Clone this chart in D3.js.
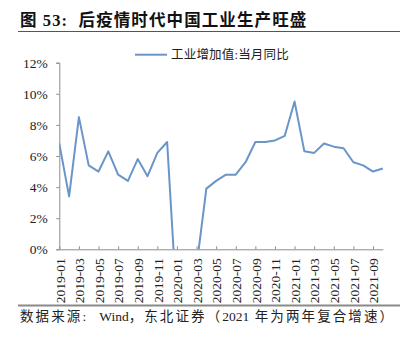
<!DOCTYPE html>
<html><head><meta charset="utf-8">
<script src="https://cdn.jsdelivr.net/npm/d3@7"></script>
<style>
html,body{margin:0;padding:0;background:#fff;}
svg{display:block;}
</style>
</head><body>
<svg id="c" width="411" height="337"></svg>
<script>
const months = ["2019-01","2019-02","2019-03","2019-04","2019-05","2019-06","2019-07","2019-08","2019-09","2019-10","2019-11","2019-12",
"2020-01","2020-02","2020-03","2020-04","2020-05","2020-06","2020-07","2020-08","2020-09","2020-10","2020-11","2020-12",
"2021-01","2021-02","2021-03","2021-04","2021-05","2021-06","2021-07","2021-08","2021-09","2021-10"];
const values = [6.8,3.4,8.5,5.4,5.0,6.3,4.8,4.4,5.8,4.7,6.2,6.9,
-3.7,-13.5,-1.1,3.9,4.4,4.8,4.8,5.6,6.9,6.9,7.0,7.3,
9.5,6.3,6.2,6.8,6.6,6.5,5.6,5.4,5.0,5.2];
const yTicks = [0,2,4,6,8,10,12];
const seriesName = "工业增加值:当月同比";
const title = "图 53:  后疫情时代中国工业生产旺盛";
const sourceParts = ["数据来源:  ", "Wind", "，东北证券（", "2021", " 年为两年复合增速）"];

const svg = d3.select("#c");
const serif = "'Liberation Serif','Times New Roman','Noto Sans CJK SC',serif";
const cjk = "'Liberation Serif','Noto Sans CJK SC',sans-serif";
const axisColor = "#8c8c8c";
const lineColor = "#6a95c9";

const x = d3.scalePoint().domain(months).range([59.3, 382.8]);
const y = d3.scaleLinear().domain([0, 12]).range([249.3, 62.7]);

// title
svg.append("text").attr("x", 20).attr("y", 26).attr("font-family", cjk)
  .attr("font-weight", "bold").attr("font-size", 16.5).attr("letter-spacing", 1.1)
  .attr("fill", "#111").attr("xml:space", "preserve").text(title);
svg.append("line").attr("x1", 18).attr("x2", 400).attr("y1", 31.5).attr("y2", 31.5)
  .attr("stroke", "#555").attr("stroke-width", 1.2);

// legend
svg.append("line").attr("x1", 135).attr("x2", 167).attr("y1", 54.7).attr("y2", 54.7)
  .attr("stroke", lineColor).attr("stroke-width", 2);
svg.append("text").attr("x", 171).attr("y", 54.7).attr("dy", "0.35em").attr("font-family", cjk)
  .attr("font-size", 12.5).attr("letter-spacing", 0.2).attr("fill", "#222").text(seriesName);

// y axis
const yAxis = svg.append("g").attr("transform", "translate(59.3,0)")
  .call(d3.axisLeft(y).tickValues(yTicks).tickSize(3).tickFormat(d => d + "%"));
yAxis.select(".domain").attr("stroke", axisColor);
yAxis.selectAll(".tick line").attr("stroke", axisColor);
yAxis.selectAll(".tick text").attr("font-family", serif).attr("font-size", 13.5)
  .attr("fill", "#222").attr("x", -11.5);

// x axis
const xLabels = months.filter((m, i) => i % 2 === 0);
const xAxis = svg.append("g").attr("transform", "translate(0,249.3)")
  .call(d3.axisBottom(x).tickValues(xLabels).tickSize(-3).tickSizeOuter(0));
xAxis.select(".domain").attr("stroke", axisColor);
xAxis.selectAll(".tick line").attr("stroke", axisColor);
xAxis.selectAll(".tick text").attr("font-family", serif).attr("font-size", 13.5).attr("fill", "#222")
  .attr("text-anchor", "end").attr("transform", "rotate(-90)")
  .attr("x", -9).attr("y", 0).attr("dy", "0.35em");

// clip
svg.append("clipPath").attr("id", "plot").append("rect")
  .attr("x", 59.3).attr("y", 55).attr("width", 330).attr("height", 249.3 - 55);

svg.append("path").datum(values.map((v, i) => [months[i], v]))
  .attr("clip-path", "url(#plot)")
  .attr("fill", "none").attr("stroke", lineColor).attr("stroke-width", 2)
  .attr("stroke-linejoin", "round")
  .attr("d", d3.line().x(d => x(d[0])).y(d => y(d[1])));

// footer
svg.append("line").attr("x1", 18).attr("x2", 400).attr("y1", 305.5).attr("y2", 305.5)
  .attr("stroke", "#8a8a8a").attr("stroke-width", 2);
const foot = svg.append("text").attr("x", 20).attr("y", 316).attr("dy", "0.35em").attr("font-family", cjk)
  .attr("font-size", 13.5).attr("fill", "#222").attr("xml:space", "preserve");
foot.selectAll("tspan").data(sourceParts).join("tspan")
  .attr("letter-spacing", (d, i) => i % 2 === 0 ? 2.1 : 0)
  .text(d => d);
</script>
</body></html>
